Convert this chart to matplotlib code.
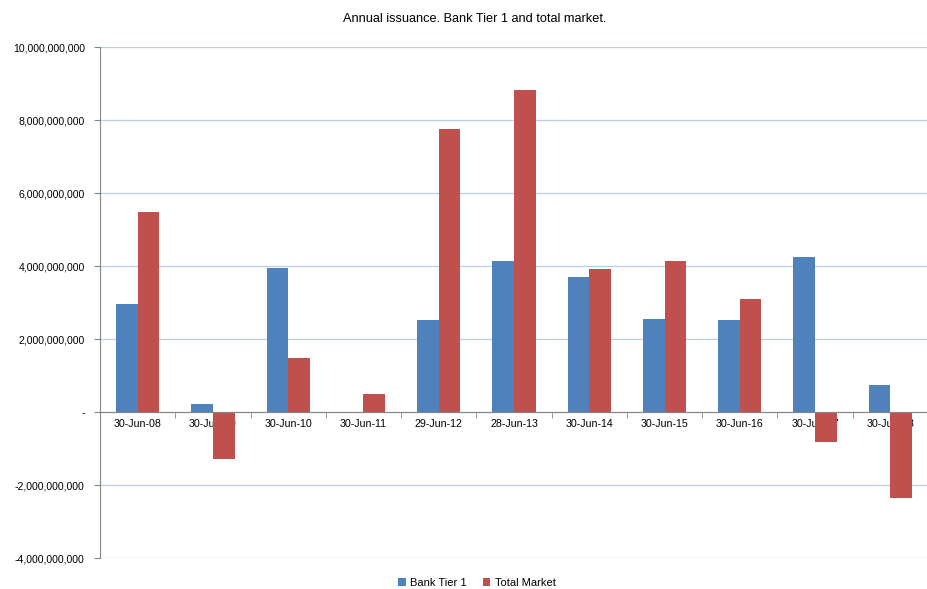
import matplotlib
matplotlib.use("Agg")
import matplotlib.pyplot as plt
import numpy as np
from matplotlib.ticker import FuncFormatter, FixedLocator

categories = ["30-Jun-08", "30-Jun-09", "30-Jun-10", "30-Jun-11", "29-Jun-12", "28-Jun-13",
              "30-Jun-14", "30-Jun-15", "30-Jun-16", "30-Jun-17", "30-Jun-18"]
bank_tier1 = [2.95e9, 0.21e9, 3.95e9, 0.0, 2.51e9, 4.15e9, 3.71e9, 2.54e9, 2.52e9, 4.25e9, 0.75e9]
total_market = [5.49e9, -1.29e9, 1.47e9, 0.49e9, 7.74e9, 8.82e9, 3.93e9, 4.13e9, 3.09e9, -0.81e9, -2.35e9]
yticks = [-4e9, -2e9, 0, 2e9, 4e9, 6e9, 8e9, 10e9]

plt.rcParams['font.family'] = ['Liberation Sans', 'DejaVu Sans']

fig = plt.figure(figsize=(9.28, 5.89), dpi=100)
ax = fig.add_axes([0.1078, 0.0526, 0.8922, 0.8676])

x = np.arange(len(categories))
w = 0.287
ax.bar(x - w/2, bank_tier1, w, color='#4F81BD', label='Bank Tier 1', zorder=3)
ax.bar(x + w/2, total_market, w, color='#C0504D', label='Total Market', zorder=3)

ax.set_xlim(-0.5, len(categories) - 0.5)
ax.set_ylim(-4e9, 10e9)
ax.set_yticks(yticks)
ax.yaxis.set_major_formatter(FuncFormatter(lambda v, p: '-' if v == 0 else f"{v:,.0f}"))
ax.grid(axis='y', color='#B9CDE5', linewidth=0.9, zorder=0)

for s in ['top', 'right']:
    ax.spines[s].set_visible(False)
ax.spines['left'].set_color('#868686')
ax.spines['bottom'].set_color('#868686')
ax.spines['bottom'].set_position(('data', 0))
ax.spines['bottom'].set_zorder(4)

ax.set_xticks(x)
ax.set_xticklabels(categories)
ax.tick_params(axis='x', which='major', length=0, pad=5, labelsize=7.7)
ax.xaxis.set_minor_locator(FixedLocator(np.arange(-0.5, len(categories), 1.0)))
ax.tick_params(axis='x', which='minor', length=4, color='#868686', direction='out')
ax.tick_params(axis='y', length=4, color='#868686', labelsize=7.6, pad=7)

fig.text(0.512, 0.967, 'Annual issuance. Bank Tier 1 and total market.', ha='center', va='center', fontsize=9.2)

fig.legend(loc='center', bbox_to_anchor=(0.514, 0.01), ncol=2, frameon=False, fontsize=8,
           handlelength=0.7, handleheight=0.7, handletextpad=0.4, columnspacing=1.4)

fig.savefig('out.png', dpi=100)
